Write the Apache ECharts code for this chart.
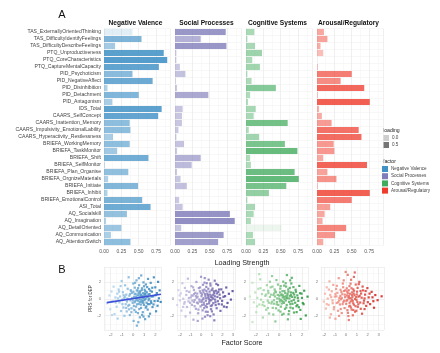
<!DOCTYPE html>
<html>
<head>
<meta charset="utf-8">
<script src="https://cdn.jsdelivr.net/npm/echarts@6/dist/echarts.min.js"></script>
<style>
  html, body { margin: 0; padding: 0; background: #fff; }
  #root { width: 440px; height: 353px; }
</style>
</head>
<body>
<div id="root"></div>
<script>
// ---- data ----
const measures = [
  'TAS_ExternallyOrientedThinking', 'TAS_DifficultyIdentifyFeelings', 'TAS_DifficultyDescribeFeelings',
  'PTQ_Unproductiveness', 'PTQ_CoreCharacteristics', 'PTQ_CaptureMentalCapacity',
  'PID_Psychoticism', 'PID_NegativeAffect', 'PID_Disinhibition', 'PID_Detachment', 'PID_Antagonism',
  'IDS_Total', 'CAARS_SelfConcept', 'CAARS_Inattention_Memory', 'CAARS_Impulsivity_EmotionalLability',
  'CAARS_Hyperactivity_Restlessness', 'BRIEFA_WorkingMemory', 'BRIEFA_TaskMonitor', 'BRIEFA_Shift',
  'BRIEFA_SelfMonitor', 'BRIEFA_Plan_Organise', 'BRIEFA_OrgnizeMaterials', 'BRIEFA_Initiate',
  'BRIEFA_Inhibit', 'BRIEFA_EmotionalControl', 'ASI_Total', 'AQ_Socialskill', 'AQ_Imagination',
  'AQ_DetailOriented', 'AQ_Communication', 'AQ_AttentionSwitch'
]
const factors = ['Negative Valence', 'Social Processes', 'Cognitive Systems', 'Arousal/Regulatory']
const factorColors = ['#4292c6', '#807dba', '#41ab5d', '#ef3b2c']

// signed loadings (bar length = |loading|, transparency follows the signed value)
const nvLoadings = [-0.41, 0.54, 0.16, 0.86, 0.91, 0.79, 0.41, 0.70, 0.05, 0.50, 0.12, 0.83, 0.78, 0.37, 0.38, 0.13,
  0.37, 0.19, 0.64, 0.01, 0.35, 0.06, 0.49, 0.05, 0.55, 0.67, 0.33, 0.03, 0.25, 0.10, 0.38]
const spLoadings = [0.73, 0.37, 0.74, 0.02, 0.02, 0.07, 0.15, 0.01, 0.03, 0.48, 0.00, 0.11, 0.10, 0.10, 0.05, 0.02,
  0.13, 0.03, 0.37, 0.24, 0.03, 0.08, 0.17, 0.00, 0.06, 0.11, 0.79, 0.86, 0.09, 0.70, 0.62]
const csLoadings = [0.12, 0.02, 0.13, 0.23, 0.09, 0.20, 0.02, 0.08, 0.43, 0.06, 0.03, 0.14, 0.11, 0.60, 0.04, 0.19,
  0.56, 0.74, 0.06, 0.07, 0.70, 0.76, 0.58, 0.33, 0.02, 0.13, 0.11, 0.07, -0.51, 0.10, 0.13]
const arLoadings = [0.10, 0.15, 0.05, -0.09, 0.00, 0.01, 0.50, 0.34, 0.68, 0.01, 0.76, 0.03, 0.07, 0.21, 0.60, 0.64,
  0.24, 0.25, 0.09, 0.72, 0.15, 0.28, 0.01, 0.76, 0.50, 0.19, 0.11, 0.08, 0.42, 0.26, 0.09]
const barTicks = [0, 0.25, 0.5, 0.75]

// factor score vs PRS for DEP
const nvScores = [[-2.31,-0.52],[-2.12,0.41],[-2.04,-1.23],[-1.93,0.88],[-1.85,-0.27],[-1.74,1.46],[-1.66,-1.81],[-1.58,0.17],
  [-1.47,-0.93],[-1.41,0.63],[-1.38,-2.34],[-1.29,1.12],[-1.22,-0.41],[-1.16,0.29],[-1.08,-1.44],[-1.02,2.13],[-0.97,-0.08],
  [-0.91,0.79],[-0.86,-1.02],[-0.79,0.12],[-0.77,-2.01],[-0.71,1.62],[-0.66,-0.63],[-0.61,0.51],[-0.57,-1.49],[-0.52,0.03],
  [-0.48,1.21],[-0.43,-0.82],[-0.39,2.58],[-0.33,0.38],[-0.29,-1.93],[-0.24,-0.17],[-0.21,1.04],[-0.14,-1.12],[-0.11,0.71],
  [-0.04,-0.47],[0.02,1.83],[0.05,-2.62],[0.09,0.22],[0.12,-1.31],[0.16,1.34],[0.19,-0.28],[0.23,0.61],[0.27,-0.91],
  [0.31,2.21],[0.34,-3.18],[0.37,0.04],[0.41,0.98],[0.44,-1.69],[0.48,0.47],[0.51,-0.58],[0.54,1.63],[0.58,-0.06],
  [0.61,-2.19],[0.64,0.92],[0.68,0.33],[0.71,-1.07],[0.73,2.79],[0.77,-0.38],[0.8,1.27],[0.83,0.14],[0.87,-1.58],[0.9,0.68],
  [0.93,1.97],[0.97,-0.71],[1.01,0.42],[1.04,1.09],[1.08,-2.41],[1.12,0.01],[1.15,1.72],[1.19,-0.88],[1.23,0.79],[1.28,0.19],
  [1.31,-1.27],[1.34,2.38],[1.39,-0.16],[1.43,1.18],[1.48,0.57],[1.52,-1.76],[1.58,1.91],[1.63,-0.49],[1.69,0.86],
  [1.74,-0.97],[1.81,0.31],[1.86,2.57],[1.92,-0.26],[1.99,1.38],[2.06,-1.47],[2.13,0.69],[2.19,-0.81],[2.24,2.03],
  [2.31,0.08],[2.38,1.02],[2.47,-0.36],[0.15,0.55],[0.62,-0.35],[0.45,1.28],[-0.18,0.95],[0.88,-0.22],[0.36,-0.64],
  [1.05,0.62],[-0.55,-0.31],[0.72,0.48],[0.25,-1.55],[1.21,-0.45],[-0.84,0.44],[0.57,0.18],[1.47,-0.62],[0.07,-0.83],
  [0.98,1.51],[-0.36,-1.24],[0.81,-1.91],[1.66,0.28],[-1.25,0.87],
  [-0.95,-0.62],[-0.72,0.27],[-0.46,-0.05],[-0.27,0.58],[-0.08,0.11],[0.03,0.84],[0.14,-0.41],[0.26,0.26],[0.33,1.02],
  [0.43,-0.22],[0.49,0.71],[0.56,-1.21],[0.66,0.55],[0.69,-0.67],[0.78,1.05],[0.84,0.36],[0.91,-0.47],[0.95,0.12],
  [1.03,-0.14],[1.09,0.91],[1.14,-1.04],[1.18,0.33],[1.26,1.41],[1.33,-0.61],[1.37,0.52],[1.45,0.04],[1.55,0.97],
  [1.61,-0.28],[1.72,1.33],[1.83,-0.66],[-1.35,0.06],[-1.55,-0.44],[-1.11,1.53],[-0.62,-1.07],[-0.15,-1.58],[0.18,1.92],
  [0.52,2.47],[0.93,-2.11],[1.41,-2.08],[-0.03,-0.19],[0.39,0.41],[0.61,0.79],[0.75,-0.12],[1.11,0.58],[0.29,-0.13],
  [-0.34,-0.71],[2.02,0.45],[2.21,-0.24],[0.47,-2.77],[-1.88,-1.92]]
const spScores = [[-2.45,0.21],[-2.28,-0.73],[-2.17,1.04],[-2.02,-0.18],[-1.94,0.66],[-1.87,-1.39],[-1.79,1.87],[-1.71,0.02],
  [-1.62,-0.57],[-1.55,1.31],[-1.49,-2.08],[-1.42,0.47],[-1.35,-0.96],[-1.27,2.41],[-1.21,-0.29],[-1.14,0.83],[-1.06,-1.63],
  [-0.99,0.18],[-0.93,1.52],[-0.88,-0.71],[-0.81,0.39],[-0.74,-2.47],[-0.69,1.06],[-0.62,-0.12],[-0.57,0.72],[-0.51,-1.18],
  [-0.46,2.02],[-0.41,-0.44],[-0.35,0.27],[-0.29,-1.71],[-0.23,1.29],[-0.18,-0.06],[-0.13,0.91],[-0.07,-0.89],[-0.02,2.63],
  [0.03,-0.35],[0.08,0.54],[0.13,-1.36],[0.17,1.68],[0.22,0.09],[0.26,-0.67],[0.31,1.11],[0.35,-2.12],[0.39,0.36],
  [0.44,-0.22],[0.48,1.43],[0.53,-0.98],[0.57,0.64],[0.61,-1.54],[0.66,0.15],[0.7,2.29],[0.74,-0.53],[0.79,0.87],
  [0.83,-0.14],[0.88,1.59],[0.92,-1.22],[0.97,0.41],[1.02,-0.76],[1.07,1.23],[1.12,0.03],[1.17,-1.85],[1.23,0.69],
  [1.28,2.17],[1.34,-0.39],[1.4,0.97],[1.46,-1.11],[1.53,0.24],[1.59,1.65],[1.66,-0.62],[1.74,0.51],[1.82,-1.42],[1.9,1.14],
  [1.98,-0.23],[2.07,0.78],[2.16,-0.91],[2.26,0.33],[2.37,1.36],[2.49,-0.48],[2.62,0.61],[2.81,-0.08],[2.97,0.93],
  [0.21,0.79],[-0.31,-0.53],[0.63,0.46],[0.04,-0.17],[0.92,0.21],[-0.68,0.58],[0.41,-0.84],[1.15,0.49],[-0.12,1.37],
  [0.76,-0.31],[0.28,-1.09],[-0.84,-0.19],[1.31,-0.08],[0.52,1.87],[-0.44,0.14],[1.62,0.83],[0.11,-2.34],[-1.05,-0.47],
  [0.85,-2.06],[0.33,2.48],
  [-0.91,0.42],[-0.63,-0.86],[-0.38,0.63],[-0.16,-0.31],[0.02,0.33],[0.14,1.02],[0.24,-0.44],[0.36,0.58],[0.46,0.09],
  [0.55,-0.61],[0.67,1.21],[0.72,-0.02],[0.81,0.52],[0.9,-0.84],[0.99,1.04],[1.05,0.16],[1.14,-0.51],[1.21,0.91],
  [1.29,0.31],[1.37,-0.73],[1.48,0.66],[1.57,-0.27],[1.69,1.12],[1.79,0.08],[-1.18,0.11],[-1.38,0.94],[-1.57,-0.38],
  [-0.77,1.38],[-0.27,-1.27],[0.09,-0.72],[0.31,1.94],[0.6,-1.94],[1.01,-1.48],[1.43,1.78],[-0.52,0.35],[-0.05,0.69],
  [0.43,-1.52],[0.86,1.83],[1.95,-0.66],[2.11,0.25],[0.18,-0.05],[0.49,0.94],[-1.72,-0.95],[-2.05,0.41],[1.24,-2.55],
  [-0.33,-2.62],[2.41,-0.98],[0.69,0.28],[0.94,-0.16],[-0.7,-0.36]]
const csScores = [[-2.52,0.28],[-2.31,1.92],[-2.18,-0.41],[-2.06,0.77],[-1.97,-1.58],[-1.88,0.13],[-1.8,1.21],[-1.71,-0.67],
  [-1.63,2.33],[-1.56,-0.09],[-1.48,0.58],[-1.4,-2.21],[-1.33,1.04],[-1.26,-0.83],[-1.19,0.36],[-1.12,-1.29],[-1.05,1.63],
  [-0.98,-0.21],[-0.92,0.69],[-0.86,-1.74],[-0.79,0.24],[-0.73,1.38],[-0.67,-0.54],[-0.61,2.72],[-0.55,-1.07],[-0.49,0.47],
  [-0.44,-0.16],[-0.38,1.13],[-0.32,-2.68],[-0.27,0.81],[-0.21,-0.64],[-0.16,0.06],[-0.1,1.71],[-0.05,-1.37],[0.01,0.39],
  [0.06,-0.28],[0.11,1.22],[0.16,-0.92],[0.21,0.55],[0.26,-1.88],[0.31,0.17],[0.36,2.06],[0.41,-0.47],[0.46,0.94],
  [0.51,-1.19],[0.56,0.31],[0.61,1.47],[0.66,-0.72],[0.71,0.08],[0.76,-2.43],[0.81,0.86],[0.87,-0.35],[0.92,1.31],
  [0.98,-1.03],[1.04,0.45],[1.1,2.51],[1.16,-0.58],[1.22,0.72],[1.29,-1.62],[1.36,0.19],[1.43,1.09],[1.5,-0.86],[1.58,0.42],
  [1.66,-0.23],[1.75,1.55],[1.84,-1.31],[1.94,0.63],[2.05,-0.49],[2.17,0.98],[2.31,-1.97],[2.46,0.27],[2.61,-2.26],
  [0.19,0.44],[-0.35,0.29],[0.58,-0.19],[0.94,0.37],[-0.07,-0.71],[0.44,1.58],[1.27,-0.12],[-0.62,-0.33],[0.73,0.61],
  [0.12,-1.51],[-0.94,0.96],[1.58,-0.73],[0.38,-0.39],[-0.23,2.24],[0.86,-1.45],[1.06,1.84],[-1.36,-0.38],[0.29,0.92],
  [-0.5,-1.86],[0.68,2.84],[-1.72,2.95],[-2.3,-2.75],
  [-0.88,-0.45],[-0.69,0.51],[-0.42,0.66],[-0.19,-0.38],[0.02,0.03],[0.08,0.78],[0.23,-0.55],[0.33,0.43],[0.47,-0.04],
  [0.53,0.69],[0.62,-1.03],[0.71,0.38],[0.79,1.12],[0.89,0.06],[0.97,-0.62],[1.02,0.77],[1.13,0.24],[1.19,-1.12],
  [1.31,0.52],[1.39,-0.45],[1.46,0.85],[1.62,0.11],[1.71,-0.99],[1.81,0.68],[-1.14,0.52],[-1.43,-0.71],[-0.97,-1.08],
  [-0.58,1.46],[-0.26,-1.12],[0.14,1.53],[0.39,-1.77],[0.82,-1.82],[1.24,1.41],[-1.61,1.28],[-0.12,0.48],[0.27,-0.24],
  [0.57,1.87],[1.52,-1.57],[1.98,0.12],[2.12,-0.63],[0.41,0.21],[-0.45,-0.57],[-1.9,-0.88],[0.96,2.21],[-0.79,2.05],
  [1.87,-2.38],[0.64,0.12],[0.15,-0.12],[-0.33,0.91],[1.08,-0.26]]
const arScores = [[-2.04,-0.31],[-1.93,0.62],[-1.85,-1.15],[-1.77,1.38],[-1.68,0.04],[-1.6,-0.72],[-1.52,2.09],[-1.45,0.47],
  [-1.38,-1.83],[-1.31,0.91],[-1.24,-0.19],[-1.17,1.67],[-1.1,-0.97],[-1.03,0.28],[-0.97,-2.36],[-0.91,1.19],[-0.85,-0.48],
  [-0.79,0.73],[-0.73,-1.41],[-0.67,2.47],[-0.61,0.12],[-0.56,-0.66],[-0.5,1.08],[-0.45,-0.04],[-0.39,-1.68],[-0.34,0.56],
  [-0.29,1.83],[-0.24,-0.37],[-0.18,0.94],[-0.13,-1.09],[-0.08,0.21],[-0.03,3.21],[0.02,-0.58],[0.07,1.26],[0.12,-0.14],
  [0.17,0.67],[0.22,-2.04],[0.27,0.35],[0.32,1.52],[0.37,-0.81],[0.42,0.09],[0.47,2.28],[0.52,-1.27],[0.57,0.78],
  [0.62,-0.26],[0.67,1.14],[0.73,-0.69],[0.78,0.43],[0.84,-1.52],[0.9,1.71],[0.96,-0.11],[1.02,0.86],[1.09,-0.94],
  [1.16,0.27],[1.23,2.03],[1.31,-0.43],[1.39,0.64],[1.48,-1.76],[1.57,1.02],[1.66,-0.21],[1.76,0.51],[1.86,-0.83],
  [1.97,1.29],[2.09,0.18],[2.22,-0.62],[2.36,0.84],[2.52,-0.27],[2.7,0.46],[2.91,-0.15],[3.28,0.31],
  [0.08,0.41],[-0.42,0.83],[0.55,-0.07],[0.33,-0.46],[-0.17,-0.21],[0.71,0.64],[1.05,-0.36],[-0.63,-0.18],[0.25,1.03],
  [0.94,0.22],[-0.88,0.31],[1.34,0.95],[0.46,-1.02],[-0.26,1.39],[0.14,-1.34],[1.71,0.06],[-1.22,-0.51],[0.63,-1.95],
  [-1.49,-2.22],[0.16,2.86],[0.81,3.15],
  [-0.97,0.59],[-0.71,-0.39],[-0.52,0.36],[-0.31,-0.62],[-0.11,0.51],[0.04,-0.23],[0.12,0.88],[0.21,0.17],[0.29,-0.89],
  [0.38,0.62],[0.44,-0.28],[0.51,1.27],[0.59,0.24],[0.66,-0.52],[0.74,0.97],[0.83,-0.01],[0.88,-0.86],[0.99,0.53],
  [1.07,1.31],[1.14,-0.64],[1.26,0.38],[1.36,-1.18],[1.44,0.14],[1.53,1.47],[1.62,-0.52],[1.81,0.94],[2.01,-0.39],
  [2.17,0.63],[-1.12,-1.23],[-1.36,0.21],[-1.57,1.11],[-0.84,1.56],[-0.48,-1.21],[-0.21,2.21],[0.18,-1.66],[0.42,1.82],
  [0.68,-1.32],[1.18,1.76],[-0.06,1.02],[0.31,0.07],[0.55,0.47],[-0.39,0.12],[0.95,-1.41],[1.71,-1.21],[2.44,0.19],
  [-1.77,-0.61],[0.26,-2.51],[0.73,2.62],[2.58,-1.05],[-0.64,-2.02]]
// linear fit shown for Negative Valence only
const nvFit = [[-2.35, -0.44], [2.5, 0.55]]
const scatterRanges = [[-2.6, 2.5], [-2.3, 3.2], [-2.6, 2.5], [-2.3, 3.5]]
const pointColors = [['#c6e2f6', '#1f78b4'], ['#d9d6ee', '#4f4399'], ['#c7eac3', '#1a8f33'], ['#fdc9ba', '#d31f18']]

// ---- layout ----
const FONT = 'Liberation Sans, Arial, sans-serif'
const barLefts = [104, 175, 246, 317]
const barWidth = 66
const barTop = 28.5
const barHeight = 217
const scLefts = [104, 177, 249, 321]
const scWidths = [57, 58, 59, 63]
const scTop = 267
const scHeight = 63

const allLoadings = [nvLoadings, spLoadings, csLoadings, arLoadings]
const flat = allLoadings.flat()
const lmin = Math.min(...flat)
const lmax = Math.max(...flat)
const alphaOf = v => 0.1 + 0.8 * (v - lmin) / (lmax - lmin)

const grids = []
const xAxes = []
const yAxes = []
const series = []
const graphics = []

const gridLineColor = '#e6e6e6'
const minorLineColor = '#f2f2f2'

allLoadings.forEach((vals, i) => {
  grids.push({ left: barLefts[i], top: barTop, width: barWidth, height: barHeight })
  xAxes.push({
    gridIndex: i, type: 'value', min: 0, max: 0.95, interval: 0.25,
    axisLine: { show: false }, axisTick: { show: false },
    axisLabel: { fontSize: 5, color: '#555', fontFamily: FONT, margin: 4,
      showMaxLabel: false, formatter: v => barTicks.includes(+v.toFixed(2)) ? v.toFixed(2) : '' },
    splitLine: { lineStyle: { color: gridLineColor, width: 0.6 } },
    minorTick: { show: false, splitNumber: 2 },
    minorSplitLine: { show: true, lineStyle: { color: minorLineColor, width: 0.5 } }
  })
  yAxes.push({
    gridIndex: i, type: 'category', data: measures, inverse: true,
    axisLine: { show: false }, axisTick: { show: false },
    axisLabel: { show: i === 0, fontSize: 5.1, color: '#444', fontFamily: FONT, margin: 3, interval: 0 },
    splitLine: { show: true, lineStyle: { color: '#efefef', width: 0.5 } }
  })
  series.push({
    name: factors[i], type: 'bar', xAxisIndex: i, yAxisIndex: i,
    barCategoryGap: '12%',
    itemStyle: { color: factorColors[i] },
    data: vals.map(v => ({ value: Math.abs(v), itemStyle: { opacity: alphaOf(v) } }))
  })
  graphics.push({
    type: 'text', x: barLefts[i] + barWidth / 2 - 1.5, y: 23,
    style: { text: factors[i], font: 'bold 6.6px ' + FONT, fill: '#111', align: 'center', verticalAlign: 'middle' }
  })
})

const scoreSets = [nvScores, spScores, csScores, arScores]
scoreSets.forEach((pts, i) => {
  const g = 4 + i
  grids.push({ left: scLefts[i], top: scTop, width: scWidths[i], height: scHeight })
  xAxes.push({
    gridIndex: g, type: 'value', min: scatterRanges[i][0], max: scatterRanges[i][1], splitNumber: 5,
    axisLine: { show: false }, axisTick: { show: false },
    axisLabel: { fontSize: 4.2, color: '#777', fontFamily: FONT, margin: 3, showMinLabel: false, showMaxLabel: false },
    splitLine: { lineStyle: { color: gridLineColor, width: 0.6 } },
    minorTick: { show: false, splitNumber: 2 },
    minorSplitLine: { show: true, lineStyle: { color: minorLineColor, width: 0.5 } }
  })
  yAxes.push({
    gridIndex: g, type: 'value', min: -3.7, max: 3.8, splitNumber: 4,
    name: i === 0 ? 'PRS for DEP' : '', nameLocation: 'middle', nameGap: 6,
    nameTextStyle: { fontSize: 4.5, color: '#444', fontFamily: FONT },
    axisLine: { show: false }, axisTick: { show: false },
    axisLabel: { fontSize: 4.2, color: '#777', fontFamily: FONT, margin: 3, showMinLabel: false, showMaxLabel: false },
    splitLine: { lineStyle: { color: gridLineColor, width: 0.6 } },
    minorTick: { show: false, splitNumber: 2 },
    minorSplitLine: { show: true, lineStyle: { color: minorLineColor, width: 0.5 } }
  })
  series.push({
    name: factors[i] + ' score', type: 'scatter', xAxisIndex: g, yAxisIndex: g,
    symbol: 'rect', symbolSize: 2.2, itemStyle: { opacity: 0.85 }, data: pts
  })
})

series.push({
  name: 'fit', type: 'line', xAxisIndex: 4, yAxisIndex: 4, data: nvFit,
  showSymbol: false, z: 5, lineStyle: { color: '#3b4fd8', width: 1.6 }
})

const visualMaps = pointColors.map((c, i) => ({
  type: 'continuous', show: false, seriesIndex: 4 + i, dimension: 0,
  min: -2.5, max: 2.5, inRange: { color: c }
}))

// panel letters, axis titles and legend headers
graphics.push(
  { type: 'text', x: 62, y: 15, style: { text: 'A', font: '11px ' + FONT, fill: '#111', align: 'center', verticalAlign: 'middle' } },
  { type: 'text', x: 62, y: 270, style: { text: 'B', font: '11px ' + FONT, fill: '#111', align: 'center', verticalAlign: 'middle' } },
  { type: 'text', x: 242, y: 263, style: { text: 'Loading Strength', font: '7.2px ' + FONT, fill: '#222', align: 'center', verticalAlign: 'middle' } },
  { type: 'text', x: 242, y: 343, style: { text: 'Factor Score', font: '7.2px ' + FONT, fill: '#222', align: 'center', verticalAlign: 'middle' } },
  { type: 'text', x: 383, y: 131, style: { text: 'loading', font: '5.2px ' + FONT, fill: '#222', verticalAlign: 'middle' } },
  { type: 'rect', shape: { x: 383, y: 135, width: 6, height: 6 }, style: { fill: 'rgba(60,60,60,0.25)' } },
  { type: 'text', x: 392, y: 138, style: { text: '0.0', font: '4.6px ' + FONT, fill: '#444', verticalAlign: 'middle' } },
  { type: 'rect', shape: { x: 383, y: 142, width: 6, height: 6 }, style: { fill: 'rgba(60,60,60,0.7)' } },
  { type: 'text', x: 392, y: 145, style: { text: '0.5', font: '4.6px ' + FONT, fill: '#444', verticalAlign: 'middle' } },
  { type: 'text', x: 383, y: 162, style: { text: 'factor', font: '5.2px ' + FONT, fill: '#222', verticalAlign: 'middle' } }
)

const option = {
  backgroundColor: '#fff',
  animation: false,
  grid: grids,
  xAxis: xAxes,
  yAxis: yAxes,
  visualMap: visualMaps,
  legend: {
    data: factors, orient: 'vertical', left: 382, top: 166, padding: 0,
    icon: 'rect', itemWidth: 6, itemHeight: 6, itemGap: 1.2,
    textStyle: { fontSize: 4.6, color: '#444', fontFamily: FONT, padding: [0, 0, 0, -2] }
  },
  graphic: graphics,
  series
}

const chart = echarts.init(document.getElementById('root'))
chart.setOption(option)
</script>
</body>
</html>
